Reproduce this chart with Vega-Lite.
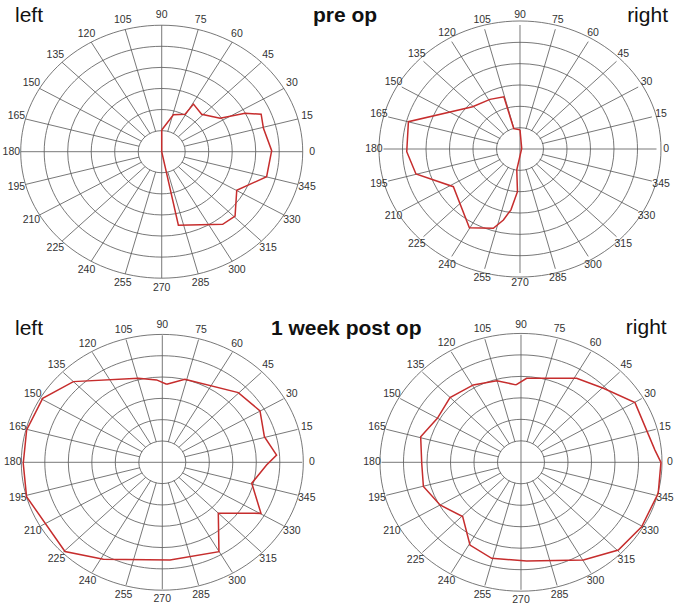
{
  "$schema": "https://vega.github.io/schema/vega-lite/v6.json",
  "background": "white",
  "padding": 0,
  "spacing": 0,
  "bounds": "flush",
  "columns": 2,
  "config": {"view": {"stroke": null}, "font": "Liberation Sans", "text": {"font": "Liberation Sans"}},
  "datasets": {
    "rings": [{"ring": 1}, {"ring": 2}, {"ring": 3}, {"ring": 4}, {"ring": 5}, {"ring": 6}],
    "spokes": [{"angle": 0}, {"angle": 15}, {"angle": 30}, {"angle": 45}, {"angle": 60}, {"angle": 75}, {"angle": 90}, {"angle": 105}, {"angle": 120}, {"angle": 135}, {"angle": 150}, {"angle": 165}, {"angle": 180}, {"angle": 195}, {"angle": 210}, {"angle": 225}, {"angle": 240}, {"angle": 255}, {"angle": 270}, {"angle": 285}, {"angle": 300}, {"angle": 315}, {"angle": 330}, {"angle": 345}],
    "tl": [{"angle": 90, "r": 1.03}, {"angle": 74.1, "r": 1.82}, {"angle": 60.8, "r": 2.04}, {"angle": 59.1, "r": 2.63}, {"angle": 46.3, "r": 2.46}, {"angle": 32.6, "r": 2.95}, {"angle": 27.2, "r": 3.99}, {"angle": 22.8, "r": 4.59}, {"angle": 14.4, "r": 4.47}, {"angle": 0.6, "r": 4.68}, {"angle": 345.1, "r": 4.62}, {"angle": 330.2, "r": 3.68}, {"angle": 315.6, "r": 4.37}, {"angle": 307, "r": 4.31}, {"angle": 281.5, "r": 3.56}, {"angle": 180, "r": 0}, {"angle": 90, "r": 1.03}],
    "tr": [{"angle": 90, "r": 0.93}, {"angle": 105.5, "r": 1.02}, {"angle": 105.7, "r": 2.62}, {"angle": 118.8, "r": 2.74}, {"angle": 135.5, "r": 2.92}, {"angle": 164.9, "r": 5.08}, {"angle": 181.5, "r": 4.98}, {"angle": 194.8, "r": 4.73}, {"angle": 211.9, "r": 3.45}, {"angle": 239.7, "r": 4.41}, {"angle": 253, "r": 4.01}, {"angle": 258, "r": 3.51}, {"angle": 262.3, "r": 2.97}, {"angle": 266.9, "r": 2.07}, {"angle": 262, "r": 1.02}, {"angle": 20, "r": 0.08}, {"angle": 90, "r": 0.93}],
    "bl": [{"angle": 87.1, "r": 3.69}, {"angle": 76.1, "r": 4.04}, {"angle": 45.3, "r": 4.63}, {"angle": 30.1, "r": 4.84}, {"angle": 15.5, "r": 4.54}, {"angle": 4.0, "r": 4.91}, {"angle": 358.4, "r": 4.47}, {"angle": 345.5, "r": 3.96}, {"angle": 330.3, "r": 4.87}, {"angle": 314.9, "r": 3.40}, {"angle": 299.9, "r": 4.87}, {"angle": 274.1, "r": 4.63}, {"angle": 241.1, "r": 5.23}, {"angle": 225.3, "r": 5.93}, {"angle": 195.6, "r": 6.04}, {"angle": 180.5, "r": 5.96}, {"angle": 165.3, "r": 6.01}, {"angle": 149.5, "r": 5.95}, {"angle": 135, "r": 5.39}, {"angle": 104.5, "r": 4.10}, {"angle": 93.6, "r": 3.90}, {"angle": 87.1, "r": 3.69}],
    "br": [{"angle": 93.4, "r": 3.65}, {"angle": 86.5, "r": 3.96}, {"angle": 58.8, "r": 4.62}, {"angle": 44.5, "r": 4.97}, {"angle": 29.8, "r": 5.65}, {"angle": 5.7, "r": 5.79}, {"angle": 0, "r": 6.02}, {"angle": 346.1, "r": 6.08}, {"angle": 329.7, "r": 6.01}, {"angle": 315.4, "r": 5.88}, {"angle": 300.3, "r": 5.32}, {"angle": 273, "r": 4.65}, {"angle": 254.4, "r": 4.69}, {"angle": 240.6, "r": 4.47}, {"angle": 225.5, "r": 3.58}, {"angle": 210, "r": 4.02}, {"angle": 195.2, "r": 4.35}, {"angle": 180.6, "r": 4.27}, {"angle": 164.4, "r": 4.48}, {"angle": 150.1, "r": 4.15}, {"angle": 135.1, "r": 4.31}, {"angle": 119.4, "r": 4.18}, {"angle": 105.2, "r": 3.98}, {"angle": 93.4, "r": 3.65}]
  },
  "concat": [
        {
          "width": 340,
          "height": 305,
          "layer": [
            {"data": {"name": "rings"}, "mark": {"type": "point", "shape": "M -1 0 A 1 0.897 0 1 1 1 0 A 1 0.897 0 1 1 -1 0 Z", "filled": false, "stroke": "#555", "strokeWidth": 0.8, "opacity": 1},
             "encoding": {"x": {"datum": 0, "type": "quantitative", "scale": {"domain": [-6.881, 7.587], "nice": false, "zero": false}, "axis": null}, "y": {"datum": 0, "type": "quantitative", "scale": {"domain": [-7.271, 7.195], "nice": false, "zero": false}, "axis": null}, "size": {"field": "ring", "type": "quantitative", "scale": {"type": "pow", "exponent": 2, "domain": [0, 6], "range": [0, 79524]}, "legend": null}}},
            {"data": {"name": "spokes"}, "transform": [{"calculate": "datum.angle % 90 == 0 ? 0 : 1", "as": "r0"}, {"calculate": "datum.r0 * cos(datum.angle * PI / 180)", "as": "x1"}, {"calculate": "datum.r0 * sin(datum.angle * PI / 180)", "as": "y1"}, {"calculate": "6 * cos(datum.angle * PI / 180)", "as": "x2"}, {"calculate": "6 * sin(datum.angle * PI / 180)", "as": "y2"}],
             "mark": {"type": "rule", "stroke": "#555", "strokeWidth": 0.8},
             "encoding": {"x": {"field": "x1", "type": "quantitative", "scale": {"domain": [-6.881, 7.587], "nice": false, "zero": false}, "axis": null}, "y": {"field": "y1", "type": "quantitative", "scale": {"domain": [-7.271, 7.195], "nice": false, "zero": false}, "axis": null}, "x2": {"field": "x2"}, "y2": {"field": "y2"}}},
            {"data": {"name": "spokes"}, "transform": [{"calculate": "6.4 * cos(datum.angle * PI / 180)", "as": "lx"}, {"calculate": "6.47 * sin(datum.angle * PI / 180)", "as": "ly"}],
             "mark": {"type": "text", "fontSize": 10.5, "fill": "#333", "align": "center", "baseline": "middle"},
             "encoding": {"x": {"field": "lx", "type": "quantitative", "scale": {"domain": [-6.881, 7.587], "nice": false, "zero": false}, "axis": null}, "y": {"field": "ly", "type": "quantitative", "scale": {"domain": [-7.271, 7.195], "nice": false, "zero": false}, "axis": null}, "text": {"field": "angle", "type": "nominal"}}},
            {"data": {"name": "tl"}, "transform": [{"window": [{"op": "row_number", "as": "i"}]}, {"calculate": "datum.r * cos(datum.angle * PI / 180)", "as": "px"}, {"calculate": "datum.r * sin(datum.angle * PI / 180)", "as": "py"}],
             "mark": {"type": "line", "stroke": "#c62d2d", "strokeWidth": 1.5},
             "encoding": {"x": {"field": "px", "type": "quantitative", "scale": {"domain": [-6.881, 7.587], "nice": false, "zero": false}, "axis": null}, "y": {"field": "py", "type": "quantitative", "scale": {"domain": [-7.271, 7.195], "nice": false, "zero": false}, "axis": null}, "order": {"field": "i", "type": "quantitative"}}},
            {"data": {"values": [{"label": "left"}]}, "mark": {"type": "text", "fontSize": 21, "align": "left", "baseline": "alphabetic", "fill": "#111"},
             "encoding": {"x": {"datum": -6.243, "type": "quantitative", "scale": {"domain": [-6.881, 7.587], "nice": false, "zero": false}, "axis": null}, "y": {"datum": 6.128, "type": "quantitative", "scale": {"domain": [-7.271, 7.195], "nice": false, "zero": false}, "axis": null}, "text": {"field": "label", "type": "nominal"}}},
            {"data": {"values": [{"label": "pre op"}]}, "mark": {"type": "text", "fontSize": 21, "fontWeight": "bold", "align": "center", "baseline": "alphabetic", "fill": "#111"},
             "encoding": {"x": {"datum": 7.8, "type": "quantitative", "scale": {"domain": [-6.881, 7.587], "nice": false, "zero": false}, "axis": null}, "y": {"datum": 6.128, "type": "quantitative", "scale": {"domain": [-7.271, 7.195], "nice": false, "zero": false}, "axis": null}, "text": {"field": "label", "type": "nominal"}}}
          ]
        },
        {
          "width": 338,
          "height": 305,
          "layer": [
            {"data": {"name": "rings"}, "mark": {"type": "point", "shape": "M -1 0 A 1 0.908 0 1 1 1 0 A 1 0.908 0 1 1 -1 0 Z", "filled": false, "stroke": "#555", "strokeWidth": 0.8, "opacity": 1},
             "encoding": {"x": {"datum": 0, "type": "quantitative", "scale": {"domain": [-7.912, 6.945], "nice": false, "zero": false}, "axis": null}, "y": {"datum": 0, "type": "quantitative", "scale": {"domain": [-7.548, 7.21], "nice": false, "zero": false}, "axis": null}, "size": {"field": "ring", "type": "quantitative", "scale": {"type": "pow", "exponent": 2, "domain": [0, 6], "range": [0, 74529]}, "legend": null}}},
            {"data": {"name": "spokes"}, "transform": [{"calculate": "datum.angle % 90 == 0 ? 0 : 1", "as": "r0"}, {"calculate": "datum.r0 * cos(datum.angle * PI / 180)", "as": "x1"}, {"calculate": "datum.r0 * sin(datum.angle * PI / 180)", "as": "y1"}, {"calculate": "6 * cos(datum.angle * PI / 180)", "as": "x2"}, {"calculate": "6 * sin(datum.angle * PI / 180)", "as": "y2"}],
             "mark": {"type": "rule", "stroke": "#555", "strokeWidth": 0.8},
             "encoding": {"x": {"field": "x1", "type": "quantitative", "scale": {"domain": [-7.912, 6.945], "nice": false, "zero": false}, "axis": null}, "y": {"field": "y1", "type": "quantitative", "scale": {"domain": [-7.548, 7.21], "nice": false, "zero": false}, "axis": null}, "x2": {"field": "x2"}, "y2": {"field": "y2"}}},
            {"data": {"name": "spokes"}, "transform": [{"calculate": "6.42 * cos(datum.angle * PI / 180)", "as": "lx"}, {"calculate": "6.48 * sin(datum.angle * PI / 180)", "as": "ly"}],
             "mark": {"type": "text", "fontSize": 10.5, "fill": "#333", "align": "center", "baseline": "middle"},
             "encoding": {"x": {"field": "lx", "type": "quantitative", "scale": {"domain": [-7.912, 6.945], "nice": false, "zero": false}, "axis": null}, "y": {"field": "ly", "type": "quantitative", "scale": {"domain": [-7.548, 7.21], "nice": false, "zero": false}, "axis": null}, "text": {"field": "angle", "type": "nominal"}}},
            {"data": {"name": "tr"}, "transform": [{"window": [{"op": "row_number", "as": "i"}]}, {"calculate": "datum.r * cos(datum.angle * PI / 180)", "as": "px"}, {"calculate": "datum.r * sin(datum.angle * PI / 180)", "as": "py"}],
             "mark": {"type": "line", "stroke": "#c62d2d", "strokeWidth": 1.5},
             "encoding": {"x": {"field": "px", "type": "quantitative", "scale": {"domain": [-7.912, 6.945], "nice": false, "zero": false}, "axis": null}, "y": {"field": "py", "type": "quantitative", "scale": {"domain": [-7.548, 7.21], "nice": false, "zero": false}, "axis": null}, "order": {"field": "i", "type": "quantitative"}}},
            {"data": {"values": [{"label": "right"}]}, "mark": {"type": "text", "fontSize": 21, "align": "right", "baseline": "alphabetic", "fill": "#111"},
             "encoding": {"x": {"datum": 6.505, "type": "quantitative", "scale": {"domain": [-7.912, 6.945], "nice": false, "zero": false}, "axis": null}, "y": {"datum": 6.145, "type": "quantitative", "scale": {"domain": [-7.548, 7.21], "nice": false, "zero": false}, "axis": null}, "text": {"field": "label", "type": "nominal"}}}
          ]
        },
        {
          "width": 340,
          "height": 302,
          "layer": [
            {"data": {"name": "rings"}, "mark": {"type": "point", "shape": "M -1 0 A 1 0.907 0 1 1 1 0 A 1 0.907 0 1 1 -1 0 Z", "filled": false, "stroke": "#555", "strokeWidth": 0.8, "opacity": 1},
             "encoding": {"x": {"datum": 0, "type": "quantitative", "scale": {"domain": [-6.956, 7.616], "nice": false, "zero": false}, "axis": null}, "y": {"datum": 0, "type": "quantitative", "scale": {"domain": [-6.836, 7.431], "nice": false, "zero": false}, "axis": null}, "size": {"field": "ring", "type": "quantitative", "scale": {"type": "pow", "exponent": 2, "domain": [0, 6], "range": [0, 78400]}, "legend": null}}},
            {"data": {"name": "spokes"}, "transform": [{"calculate": "datum.angle % 90 == 0 ? 0 : 1", "as": "r0"}, {"calculate": "datum.r0 * cos(datum.angle * PI / 180)", "as": "x1"}, {"calculate": "datum.r0 * sin(datum.angle * PI / 180)", "as": "y1"}, {"calculate": "6 * cos(datum.angle * PI / 180)", "as": "x2"}, {"calculate": "6 * sin(datum.angle * PI / 180)", "as": "y2"}],
             "mark": {"type": "rule", "stroke": "#555", "strokeWidth": 0.8},
             "encoding": {"x": {"field": "x1", "type": "quantitative", "scale": {"domain": [-6.956, 7.616], "nice": false, "zero": false}, "axis": null}, "y": {"field": "y1", "type": "quantitative", "scale": {"domain": [-6.836, 7.431], "nice": false, "zero": false}, "axis": null}, "x2": {"field": "x2"}, "y2": {"field": "y2"}}},
            {"data": {"name": "spokes"}, "transform": [{"calculate": "6.41 * cos(datum.angle * PI / 180)", "as": "lx"}, {"calculate": "6.47 * sin(datum.angle * PI / 180)", "as": "ly"}],
             "mark": {"type": "text", "fontSize": 10.5, "fill": "#333", "align": "center", "baseline": "middle"},
             "encoding": {"x": {"field": "lx", "type": "quantitative", "scale": {"domain": [-6.956, 7.616], "nice": false, "zero": false}, "axis": null}, "y": {"field": "ly", "type": "quantitative", "scale": {"domain": [-6.836, 7.431], "nice": false, "zero": false}, "axis": null}, "text": {"field": "angle", "type": "nominal"}}},
            {"data": {"name": "bl"}, "transform": [{"window": [{"op": "row_number", "as": "i"}]}, {"calculate": "datum.r * cos(datum.angle * PI / 180)", "as": "px"}, {"calculate": "datum.r * sin(datum.angle * PI / 180)", "as": "py"}],
             "mark": {"type": "line", "stroke": "#c62d2d", "strokeWidth": 1.5},
             "encoding": {"x": {"field": "px", "type": "quantitative", "scale": {"domain": [-6.956, 7.616], "nice": false, "zero": false}, "axis": null}, "y": {"field": "py", "type": "quantitative", "scale": {"domain": [-6.836, 7.431], "nice": false, "zero": false}, "axis": null}, "order": {"field": "i", "type": "quantitative"}}},
            {"data": {"values": [{"label": "left"}]}, "mark": {"type": "text", "fontSize": 21, "align": "left", "baseline": "alphabetic", "fill": "#111"},
             "encoding": {"x": {"datum": -6.313, "type": "quantitative", "scale": {"domain": [-6.956, 7.616], "nice": false, "zero": false}, "axis": null}, "y": {"datum": 6.014, "type": "quantitative", "scale": {"domain": [-6.836, 7.431], "nice": false, "zero": false}, "axis": null}, "text": {"field": "label", "type": "nominal"}}},
            {"data": {"values": [{"label": "1 week post op"}]}, "mark": {"type": "text", "fontSize": 21, "fontWeight": "bold", "align": "center", "baseline": "alphabetic", "fill": "#111"},
             "encoding": {"x": {"datum": 7.881, "type": "quantitative", "scale": {"domain": [-6.956, 7.616], "nice": false, "zero": false}, "axis": null}, "y": {"datum": 6.014, "type": "quantitative", "scale": {"domain": [-6.836, 7.431], "nice": false, "zero": false}, "axis": null}, "text": {"field": "label", "type": "nominal"}}}
          ]
        },
        {
          "width": 338,
          "height": 302,
          "layer": [
            {"data": {"name": "rings"}, "mark": {"type": "point", "shape": "M -1 0 A 1 0.914 0 1 1 1 0 A 1 0.914 0 1 1 -1 0 Z", "filled": false, "stroke": "#555", "strokeWidth": 0.8, "opacity": 1},
             "encoding": {"x": {"datum": 0, "type": "quantitative", "scale": {"domain": [-7.785, 6.753], "nice": false, "zero": false}, "axis": null}, "y": {"datum": 0, "type": "quantitative", "scale": {"domain": [-6.809, 7.402], "nice": false, "zero": false}, "axis": null}, "size": {"field": "ring", "type": "quantitative", "scale": {"type": "pow", "exponent": 2, "domain": [0, 6], "range": [0, 77841]}, "legend": null}}},
            {"data": {"name": "spokes"}, "transform": [{"calculate": "datum.angle % 90 == 0 ? 0 : 1", "as": "r0"}, {"calculate": "datum.r0 * cos(datum.angle * PI / 180)", "as": "x1"}, {"calculate": "datum.r0 * sin(datum.angle * PI / 180)", "as": "y1"}, {"calculate": "6 * cos(datum.angle * PI / 180)", "as": "x2"}, {"calculate": "6 * sin(datum.angle * PI / 180)", "as": "y2"}],
             "mark": {"type": "rule", "stroke": "#555", "strokeWidth": 0.8},
             "encoding": {"x": {"field": "x1", "type": "quantitative", "scale": {"domain": [-7.785, 6.753], "nice": false, "zero": false}, "axis": null}, "y": {"field": "y1", "type": "quantitative", "scale": {"domain": [-6.809, 7.402], "nice": false, "zero": false}, "axis": null}, "x2": {"field": "x2"}, "y2": {"field": "y2"}}},
            {"data": {"name": "spokes"}, "transform": [{"calculate": "6.41 * cos(datum.angle * PI / 180)", "as": "lx"}, {"calculate": "6.47 * sin(datum.angle * PI / 180)", "as": "ly"}],
             "mark": {"type": "text", "fontSize": 10.5, "fill": "#333", "align": "center", "baseline": "middle"},
             "encoding": {"x": {"field": "lx", "type": "quantitative", "scale": {"domain": [-7.785, 6.753], "nice": false, "zero": false}, "axis": null}, "y": {"field": "ly", "type": "quantitative", "scale": {"domain": [-6.809, 7.402], "nice": false, "zero": false}, "axis": null}, "text": {"field": "angle", "type": "nominal"}}},
            {"data": {"name": "br"}, "transform": [{"window": [{"op": "row_number", "as": "i"}]}, {"calculate": "datum.r * cos(datum.angle * PI / 180)", "as": "px"}, {"calculate": "datum.r * sin(datum.angle * PI / 180)", "as": "py"}],
             "mark": {"type": "line", "stroke": "#c62d2d", "strokeWidth": 1.5},
             "encoding": {"x": {"field": "px", "type": "quantitative", "scale": {"domain": [-7.785, 6.753], "nice": false, "zero": false}, "axis": null}, "y": {"field": "py", "type": "quantitative", "scale": {"domain": [-6.809, 7.402], "nice": false, "zero": false}, "axis": null}, "order": {"field": "i", "type": "quantitative"}}},
            {"data": {"values": [{"label": "right"}]}, "mark": {"type": "text", "fontSize": 21, "align": "right", "baseline": "alphabetic", "fill": "#111"},
             "encoding": {"x": {"datum": 6.266, "type": "quantitative", "scale": {"domain": [-7.785, 6.753], "nice": false, "zero": false}, "axis": null}, "y": {"datum": 6.014, "type": "quantitative", "scale": {"domain": [-6.809, 7.402], "nice": false, "zero": false}, "axis": null}, "text": {"field": "label", "type": "nominal"}}}
          ]
        }
  ]
}
